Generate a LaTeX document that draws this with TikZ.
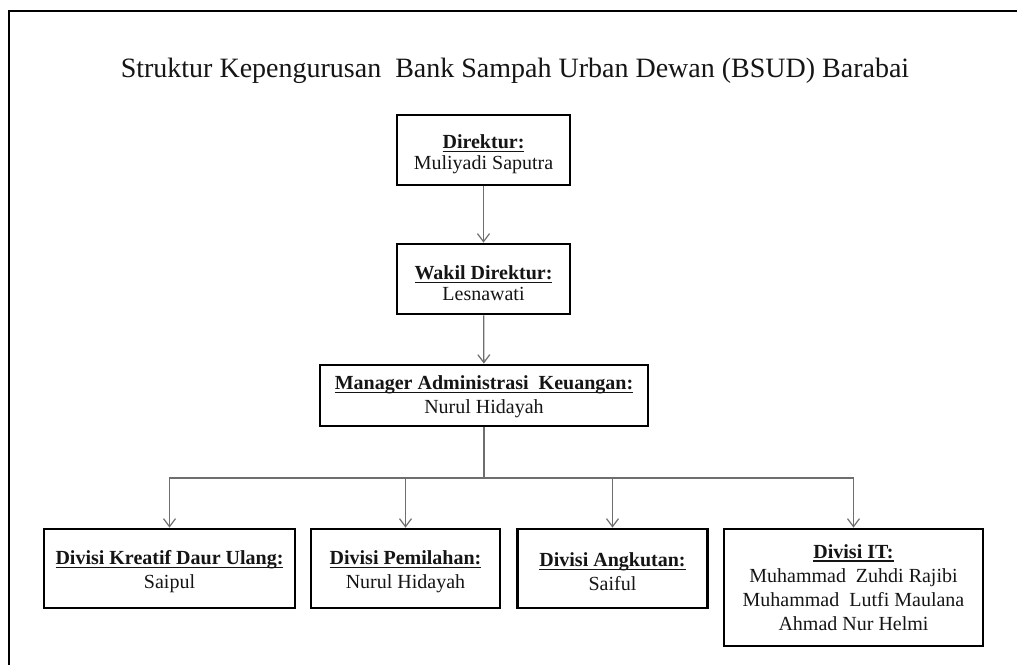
\documentclass[tikz,border=0pt]{standalone}
\usepackage{fontspec}
\setmainfont{Liberation Serif}
\usetikzlibrary{arrows.meta}
\newcommand\hdr[1]{\setbox0\hbox{\bfseries #1}\rlap{\rule[-3.2pt]{\wd0}{1.2pt}}\box0}
\definecolor{arrowgray}{HTML}{6E6E6E}
\definecolor{txt}{HTML}{151515}
\tikzset{
  box/.style={draw=black, line width=2.8pt, rectangle, inner sep=0pt, align=center,
    text=txt, font=\fontsize{20}{24}\selectfont},
  tightbox/.style={box, font=\fontsize{20}{21}\selectfont},
  conn/.style={draw=arrowgray, line width=1.3pt},
  arr/.style={conn, -{Straight Barb[length=8pt,width=12pt,line width=1.2pt]}}
}
\begin{document}
\begin{tikzpicture}[x=1pt,y=-1pt]
\useasboundingbox (0,0) rectangle (1017,665);
\fill[white] (0,0) rectangle (1017,665);
\draw[line width=2.2pt] (1017,11) -- (9,11) -- (9,665);
\node[text=txt, font=\fontsize{28}{32}\selectfont, anchor=base] (title) at (515,77) {Struktur Kepengurusan\ \ Bank Sampah Urban Dewan (BSUD) Barabai};
\node[tightbox, minimum width=173pt, minimum height=70pt] (dir) at (483.5,150) {\rule{0pt}{23pt}\hdr{Direktur:}\\Muliyadi Saputra};
\node[tightbox, minimum width=173pt, minimum height=70pt] (wak) at (483.5,279) {\rule{0pt}{23pt}\hdr{Wakil Direktur:}\\Lesnawati};
\node[box, minimum width=328pt, minimum height=61pt] (mgr) at (484,395.5) {\rule{0pt}{17pt}\hdr{Manager Administrasi\ \ Keuangan:}\\Nurul Hidayah};
\node[box, minimum width=251pt, minimum height=79pt] (d1) at (169.5,568.5) {\rule{0pt}{21pt}\hdr{Divisi Kreatif Daur Ulang:}\\Saipul};
\node[box, minimum width=189pt, minimum height=79pt] (d2) at (405.5,568.5) {\rule{0pt}{21pt}\hdr{Divisi Pemilahan:}\\Nurul Hidayah};
\node[box, minimum width=190pt, minimum height=79pt] (d3) at (612.5,568.5) {\rule{0pt}{21pt}\hdr{Divisi Angkutan:}\\Saiful};
\node[box, minimum width=259pt, minimum height=117pt] (d4) at (853.5,587.5) {\hdr{Divisi IT:}\\Muhammad\ \ Zuhdi Rajibi\\Muhammad\ \ Lutfi Maulana\\Ahmad Nur Helmi};
\coordinate (j) at (484,478);
\draw[arr] (dir) -- (wak);
\draw[arr] (wak) -- (mgr);
\draw[conn] (mgr) -- (j);
\draw[arr] (j) -| (d1.north);
\draw[arr] (j) -| (d2.north);
\draw[arr] (j) -| (d3.north);
\draw[arr] (j) -| (d4.north);
\end{tikzpicture}
\end{document}
